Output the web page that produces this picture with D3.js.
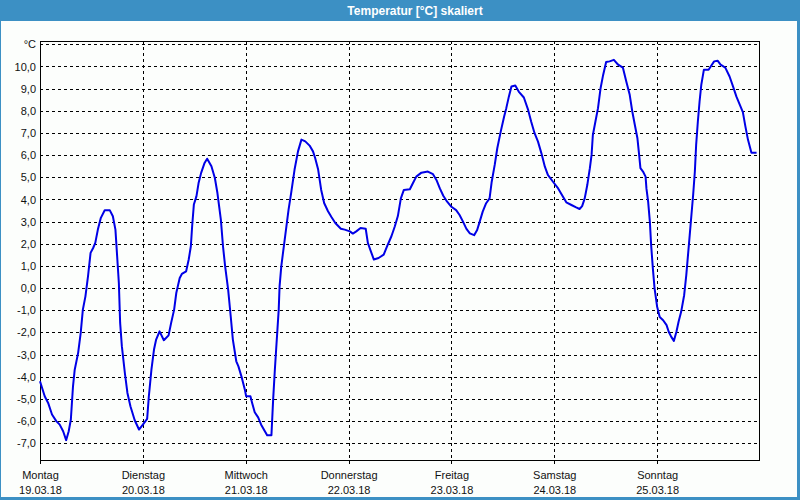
<!DOCTYPE html>
<html>
<head>
<meta charset="utf-8">
<script src="https://cdn.jsdelivr.net/npm/d3@7"></script>
<style>
  html, body { margin: 0; padding: 0; background: #fcfefc; }
  svg { display: block; }
</style>
</head>
<body>
<svg id="chart" width="800" height="500"></svg>
<script>
// ---- data (hours since 19.03.18 00:00, temperature in °C) ----
const hours = [0.0,1.1,1.9,2.8,3.8,4.6,5.4,6.1,6.7,7.2,7.7,8.1,8.9,9.5,10.0,10.6,11.2,11.8,12.4,12.9,13.5,14.2,15.1,16.3,17.0,17.6,18.0,18.4,18.7,19.1,19.8,20.4,21.1,22.1,23.1,24.0,25.0,25.4,26.0,26.6,27.1,27.9,28.9,30.0,30.6,31.3,31.8,32.6,33.1,34.1,34.7,35.2,35.5,35.9,36.5,37.0,37.6,38.4,39.0,40.0,40.8,41.4,42.2,42.7,43.2,43.9,44.5,45.0,45.8,46.3,47.1,47.8,48.1,49.1,49.5,50.1,50.9,51.6,53.0,54.0,54.4,54.8,55.1,55.4,55.7,55.9,56.3,56.7,57.1,57.6,58.0,58.6,59.4,60.2,61.0,61.9,62.9,63.7,64.2,64.9,65.6,66.3,67.2,68.0,68.9,70.2,71.1,72.3,73.0,73.8,74.8,76.0,76.5,77.2,77.9,79.0,80.2,81.0,82.0,82.8,83.5,84.2,84.9,86.3,87.0,87.8,89.0,90.5,91.7,92.5,93.3,94.1,95.0,96.0,97.1,97.9,98.7,99.5,100.3,101.3,102.0,102.6,103.3,104.1,104.9,105.4,106.1,106.7,107.5,108.3,108.8,109.4,110.0,110.9,111.7,112.9,113.9,114.6,115.4,116.2,117.0,117.8,118.5,119.7,120.9,122.0,122.8,124.0,125.1,125.9,126.5,127.1,127.7,128.3,128.7,129.0,129.6,130.2,130.8,131.4,132.1,132.9,133.9,134.9,136.0,136.8,137.6,138.2,138.8,139.4,139.8,140.1,140.7,141.3,141.5,141.9,142.3,142.6,143.0,143.4,144.0,144.6,145.4,146.2,146.7,147.3,147.9,148.5,149.0,149.6,150.3,150.8,151.2,151.6,152.0,152.4,152.8,153.1,153.5,153.9,154.3,154.9,156.0,156.5,157.3,158.1,158.8,159.9,160.9,161.7,162.5,163.3,164.0,164.6,165.2,166.0,167.2];
const temps = [-4.2,-4.88,-5.18,-5.7,-6.0,-6.16,-6.46,-6.86,-6.46,-5.93,-4.43,-3.68,-2.92,-2.02,-0.97,-0.37,0.53,1.59,1.81,2.04,2.64,3.17,3.51,3.51,3.24,2.64,1.44,0.23,-1.57,-2.62,-3.83,-4.73,-5.33,-5.96,-6.38,-6.16,-5.9,-4.88,-3.68,-2.77,-2.32,-1.95,-2.35,-2.13,-1.57,-0.97,-0.22,0.46,0.64,0.76,1.29,1.89,2.79,3.77,4.14,4.74,5.2,5.65,5.84,5.5,4.97,4.29,3.09,1.89,0.98,-0.07,-1.27,-2.32,-3.3,-3.53,-4.05,-4.58,-4.88,-4.88,-5.18,-5.6,-5.83,-6.16,-6.64,-6.64,-5.03,-3.68,-2.77,-1.87,-0.97,0.08,0.98,1.59,2.19,2.94,3.54,4.29,5.35,6.17,6.7,6.62,6.43,6.17,5.87,5.35,4.44,3.84,3.47,3.21,2.94,2.68,2.64,2.56,2.46,2.56,2.71,2.68,2.04,1.66,1.29,1.36,1.51,1.89,2.34,2.79,3.25,4.05,4.43,4.46,4.73,5.03,5.21,5.26,5.14,4.88,4.5,4.17,3.9,3.67,3.52,3.3,3.0,2.67,2.47,2.39,2.62,3.0,3.45,3.83,4.05,4.8,5.56,6.31,7.06,7.74,8.12,8.64,9.1,9.14,8.87,8.6,8.04,7.52,6.99,6.61,6.08,5.48,5.11,4.8,4.5,4.13,3.87,3.75,3.64,3.57,3.7,4.05,4.65,5.41,6.01,6.91,7.52,8.12,9.02,9.62,10.2,10.23,10.3,10.08,9.95,9.32,8.72,7.97,7.36,6.76,6.01,5.41,5.26,5.03,4.5,3.9,3.0,1.94,0.89,-0.01,-0.84,-1.3,-1.45,-1.67,-1.97,-2.2,-2.38,-1.97,-1.52,-1.07,-0.32,0.59,1.49,2.39,3.3,4.2,5.26,6.46,7.52,8.42,9.17,9.85,9.85,10.0,10.23,10.26,10.08,9.95,9.55,9.1,8.64,8.27,7.94,7.29,6.69,6.11,6.11];
const dayNames = ["Montag","Dienstag","Mittwoch","Donnerstag","Freitag","Samstag","Sonntag"];
const dayDates = ["19.03.18","20.03.18","21.03.18","22.03.18","23.03.18","24.03.18","25.03.18"];
const yTickValues = [-7,-6,-5,-4,-3,-2,-1,0,1,2,3,4,5,6,7,8,9,10];
const unitLabel = "°C";
const unitLevel = 11;
const title = "Temperatur [°C] skaliert";

// ---- layout ----
const W = 800, H = 500;
const L = 40, R = 760, T = 41, B = 461;
const svg = d3.select("#chart");
const font = "'Liberation Sans', Arial, sans-serif";

// background + frame of window
svg.append("rect").attr("x",0).attr("y",0).attr("width",W).attr("height",H).attr("fill","#fcfefc");
svg.append("rect").attr("x",0).attr("y",0).attr("width",W).attr("height",21).attr("fill","#3c90c4");
svg.append("rect").attr("x",0.5).attr("y",0.5).attr("width",W-2).attr("height",H-2)
  .attr("fill","none").attr("stroke","#3c90c4").attr("stroke-width",1);
svg.append("line").attr("x1",W-1.5).attr("x2",W-1.5).attr("y1",0).attr("y2",H).attr("stroke","#3c90c4").attr("stroke-width",3);
svg.append("line").attr("x1",0).attr("x2",W).attr("y1",H-1.5).attr("y2",H-1.5).attr("stroke","#3c90c4").attr("stroke-width",3);

svg.append("text").attr("x",415).attr("y",15).attr("text-anchor","middle")
  .attr("fill","#ffffff").attr("font-family",font).attr("font-size","12px").attr("font-weight","bold")
  .text(title);

// ---- scales ----
const x = d3.scaleLinear().domain([0,168]).range([L,R]);
const y = d3.scaleLinear().domain([-7.8,11.15]).range([B,T]);
const crisp = v => Math.round(v) + 0.5;

// horizontal grid
const gridLevels = yTickValues.concat([unitLevel]);
svg.append("g").selectAll("line").data(gridLevels).join("line")
  .attr("x1",L).attr("x2",R)
  .attr("y1",d=>crisp(y(d))).attr("y2",d=>crisp(y(d)))
  .attr("stroke","#000").attr("stroke-width",1).attr("stroke-dasharray","3,3")
  .attr("shape-rendering","crispEdges");

// vertical grid at day boundaries
const dayHours = d3.range(0,7).map(i=>i*24);
svg.append("g").selectAll("line").data(dayHours.slice(1)).join("line")
  .attr("x1",d=>crisp(x(d))).attr("x2",d=>crisp(x(d)))
  .attr("y1",T).attr("y2",B)
  .attr("stroke","#000").attr("stroke-width",1).attr("stroke-dasharray","3,3")
  .attr("shape-rendering","crispEdges");

// plot frame
svg.append("rect").attr("x",L+0.5).attr("y",T+0.5).attr("width",R-L-1).attr("height",B-T-1)
  .attr("fill","none").attr("stroke","#000").attr("stroke-width",1).attr("shape-rendering","crispEdges");

// x axis (ticks + labels)
const xAxis = d3.axisBottom(x).tickValues(dayHours).tickSize(3).tickFormat("");
const gx = svg.append("g").attr("transform",`translate(0,${B-0.5})`).call(xAxis);
gx.select(".domain").remove();
gx.selectAll("line").attr("stroke","#000").attr("shape-rendering","crispEdges");
gx.selectAll(".tick").append("text").attr("y",18).attr("fill","#111")
  .attr("font-family",font).attr("font-size","11px").attr("text-anchor","middle")
  .text((d,i)=>dayNames[i]);
gx.selectAll(".tick").append("text").attr("y",33).attr("fill","#111")
  .attr("font-family",font).attr("font-size","11px").attr("text-anchor","middle")
  .text((d,i)=>dayDates[i]);

// y axis labels
const yAxis = d3.axisLeft(y).tickValues(yTickValues.concat([unitLevel])).tickSize(0).tickPadding(4)
  .tickFormat(d => d === unitLevel ? unitLabel : d.toFixed(1).replace(".", ","));
const gy = svg.append("g").attr("transform",`translate(${L},0)`).call(yAxis);
gy.select(".domain").remove();
gy.selectAll("text").attr("fill","#111").attr("font-family",font).attr("font-size","11px");

// ---- line ----
const data = hours.map((h,i)=>({h, t: temps[i]}));
const line = d3.line().x(d=>x(d.h)).y(d=>y(d.t));
svg.append("path").datum(data).attr("d",line)
  .attr("fill","none").attr("stroke","#0000e6").attr("stroke-width",2)
  .attr("stroke-linejoin","round");
</script>
</body>
</html>
